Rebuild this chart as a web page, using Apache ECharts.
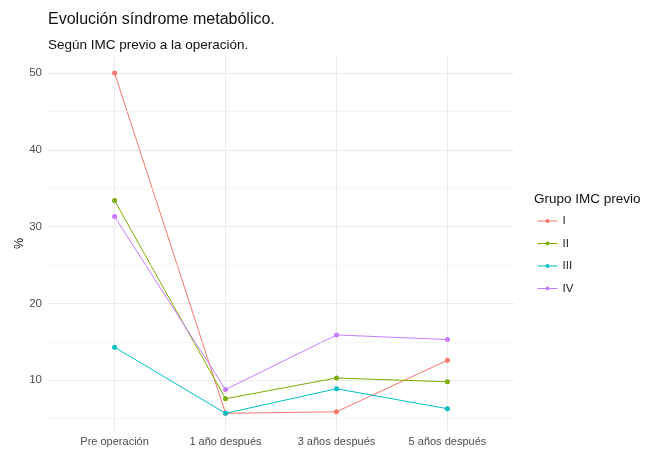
<!DOCTYPE html>
<html><head><meta charset="utf-8">
<script src="https://cdn.jsdelivr.net/npm/echarts/dist/echarts.min.js"></script>
<style>html,body{margin:0;padding:0;background:#fff}#c{width:646px;height:450px}</style>
</head><body><div id="c"></div>
<script>
const categories = ['Pre operación', '1 año después', '3 años después', '5 años después'];
const groups = ['I', 'II', 'III', 'IV'];
const valuesI = [50.0, 5.7, 5.9, 12.6];
const valuesII = [33.4, 7.6, 10.3, 9.8];
const valuesIII = [14.3, 5.7, 8.9, 6.3];
const valuesIV = [31.3, 8.8, 15.9, 15.3];
const minorLines = [5, 15, 25, 35, 45];
const colors = ['#F8766D', '#7CAE00', '#00BFC4', '#C77CFF'];

const allValues = [valuesI, valuesII, valuesIII, valuesIV];
const font = 'Liberation Sans, Arial, sans-serif';
const chart = echarts.init(document.getElementById('c'), null, {renderer: 'canvas'});

const series = allValues.map((vals, gi) => ({
  name: groups[gi],
  type: 'line',
  data: vals.map((v, i) => [i, v]),
  symbol: 'circle',
  symbolSize: 5,
  lineStyle: {width: 1, color: colors[gi]},
  itemStyle: {color: colors[gi]},
  z: 3
}));
series.unshift({
  name: 'grid',
  type: 'line',
  data: [],
  z: 1,
  silent: true,
  markLine: {
    silent: true,
    symbol: 'none',
    label: {show: false},
    animation: false,
    lineStyle: {color: '#f3f3f3', width: 0.8, type: 'solid'},
    data: minorLines.map(v => ({yAxis: v}))
  }
});

chart.setOption({
  animation: false,
  color: colors,
  title: [
    {text: 'Evolución síndrome metabólico.', left: 48, top: 12, padding: 0,
     textStyle: {fontFamily: font, fontSize: 16, fontWeight: 'normal', color: '#111'}},
    {text: 'Según IMC previo a la operación.', left: 48, top: 38, padding: 0,
     textStyle: {fontFamily: font, fontSize: 13.5, fontWeight: 'normal', color: '#111'}},
    {text: 'Grupo IMC previo', left: 534, top: 192, padding: 0,
     textStyle: {fontFamily: font, fontSize: 13.5, fontWeight: 'normal', color: '#111'}}
  ],
  legend: {
    data: groups,
    orient: 'vertical',
    left: 537,
    top: 215,
    padding: 0,
    itemWidth: 20,
    itemHeight: 5,
    itemGap: 10.5,
    lineStyle: {width: 1},
    textStyle: {fontFamily: font, fontSize: 11.5, color: '#222'}
  },
  grid: {left: 48, right: 132, top: 56, bottom: 19, containLabel: false},
  xAxis: {
    type: 'value',
    min: -0.6,
    max: 3.6,
    axisLine: {show: false},
    axisTick: {show: false},
    splitLine: {show: true, showMinLine: false, showMaxLine: false, lineStyle: {color: '#ebebeb', width: 1}},
    axisLabel: {
      showMinLabel: false, showMaxLabel: false,
      margin: 5,
      fontFamily: font, fontSize: 11, color: '#4d4d4d',
      formatter: v => (Number.isInteger(v) && categories[v]) ? categories[v] : ''
    }
  },
  yAxis: {
    type: 'value',
    min: 3.4,
    max: 52.2,
    name: '%',
    nameLocation: 'middle',
    nameGap: 22,
    nameMoveOverlap: false,
    nameTextStyle: {fontFamily: font, fontSize: 12.5, color: '#111'},
    axisLine: {show: false},
    axisTick: {show: false},
    splitLine: {show: true, showMinLine: false, showMaxLine: false, lineStyle: {color: '#ebebeb', width: 1}},
    axisLabel: {
      showMinLabel: false, showMaxLabel: false,
      margin: 6,
      fontFamily: font, fontSize: 11.5, color: '#4d4d4d',
      formatter: v => (v % 10 === 0) ? String(v) : ''
    }
  },
  series: series
});
</script></body></html>
